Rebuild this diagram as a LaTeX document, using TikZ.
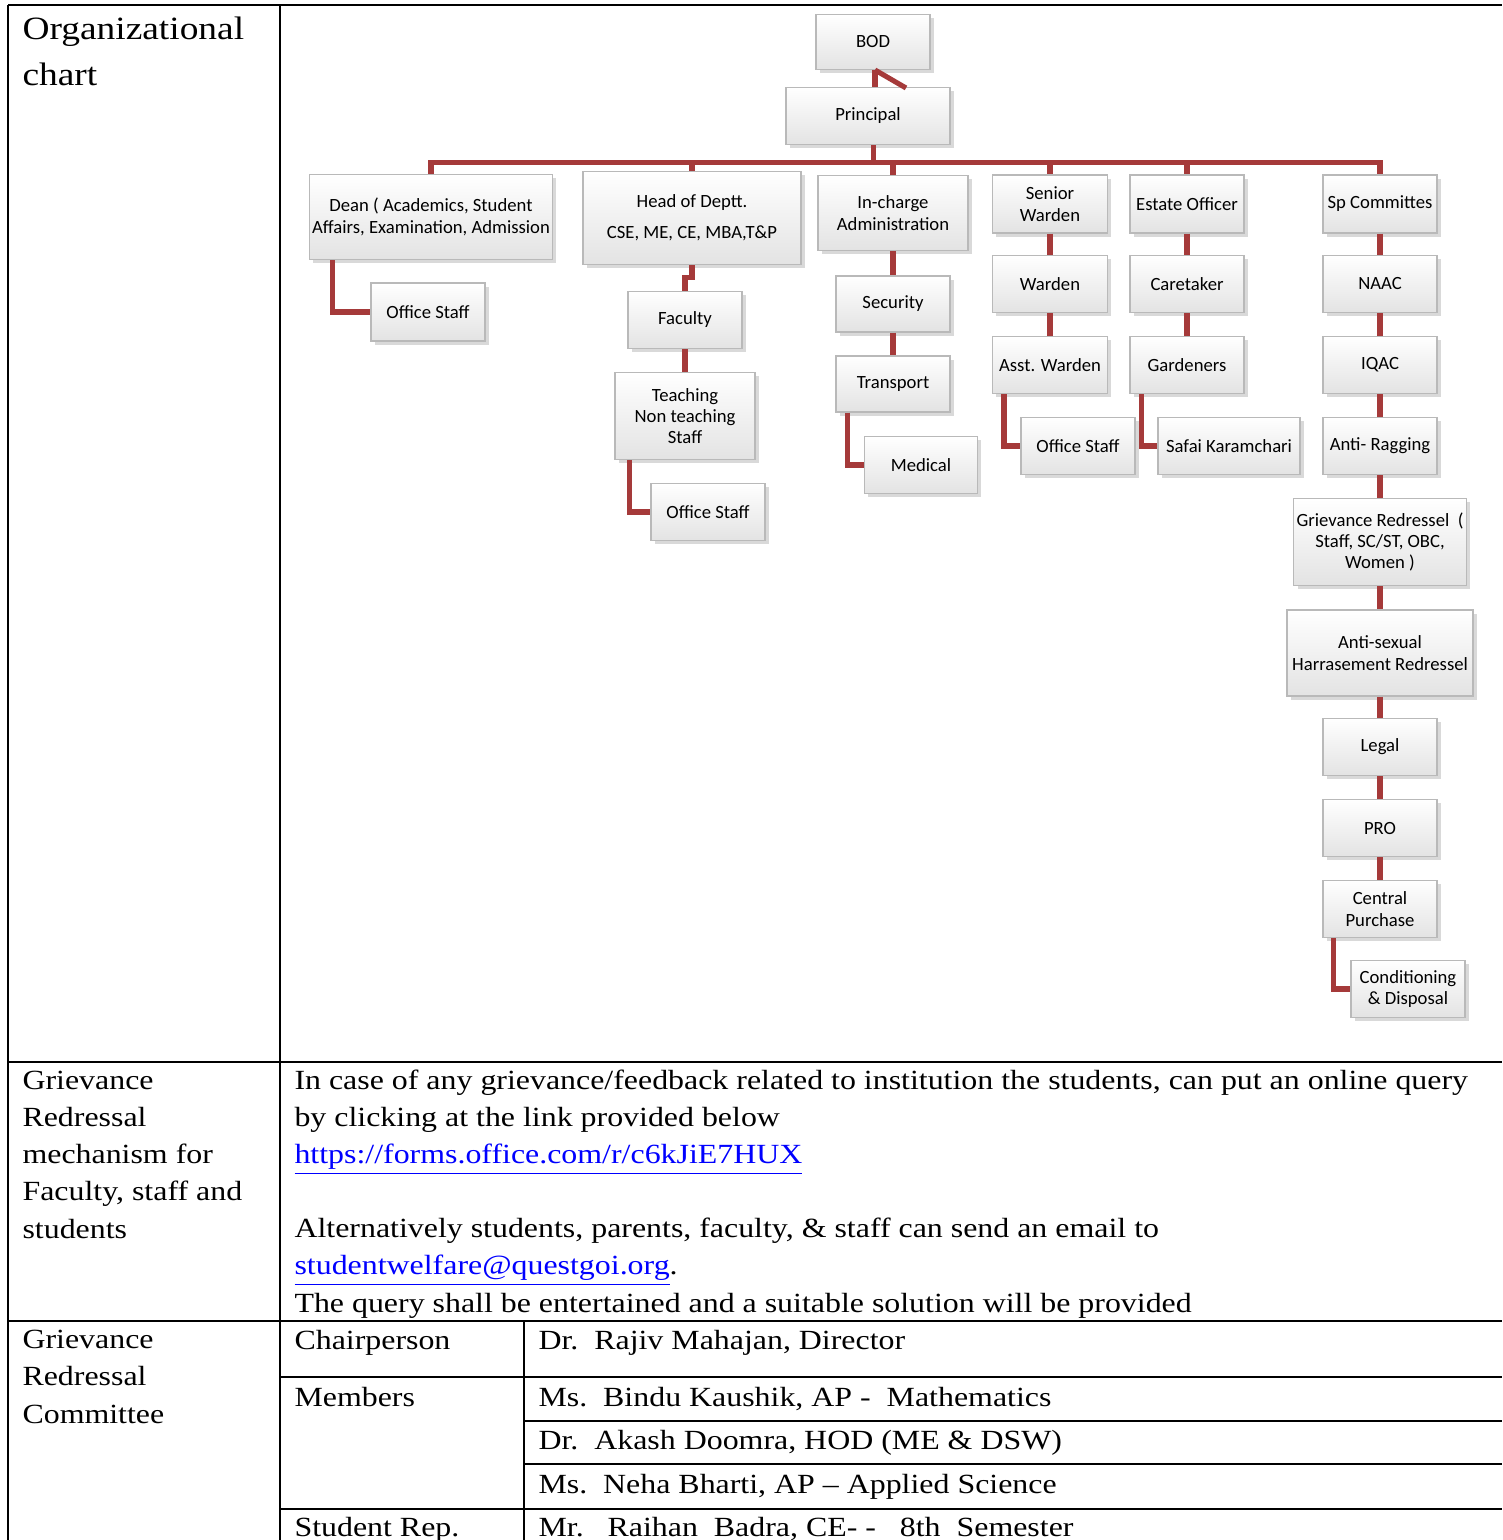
\documentclass[tikz,border=0pt]{standalone}
\usepackage{fontspec}
\setmainfont{Liberation Serif}[FakeStretch=1.15]
\newfontfamily\chartfont{Carlito}
\usetikzlibrary{shadows}

\definecolor{linkred}{RGB}{165,58,58}
\definecolor{urlblue}{RGB}{0,0,255}
\newcommand{\weblink}[1]{\textcolor{urlblue}{\underline{#1}}}

\tikzset{
    orgbox/.style={draw=gray!55, top color=white, bottom color=gray!22,
        drop shadow={shadow xshift=1.4pt, shadow yshift=-1.4pt, opacity=0.3},
        font=\chartfont\fontsize{7}{8}\selectfont, align=center, inner sep=1pt,
        minimum width=42.75pt, minimum height=21.4pt},
    link/.style={draw=linkred, line width=1.9pt},
    rule/.style={line width=1.1pt},
    % multi-line cells are placed by the baseline of their last line
    celltext/.style={anchor=base west, align=left, inner sep=0pt,
        font=\fontsize{10.4}{13.9}\selectfont}
}

\begin{document}
\begin{tikzpicture}[x=0.375pt, y=-0.375pt]
    \useasboundingbox (0,0) rectangle (1502,1540);

    % table rules
    \draw[rule] (8,5) -- (1502,5);
    \draw[rule] (8,5) -- (8,1540);
    \draw[rule] (280,5) -- (280,1540);
    \draw[rule] (8,1062) -- (1502,1062);
    \draw[rule] (8,1321) -- (1502,1321);
    \draw[rule] (524,1321) -- (524,1540);
    \draw[rule] (280,1377) -- (1502,1377);
    \draw[rule] (524,1421) -- (1502,1421);
    \draw[rule] (524,1464) -- (1502,1464);
    \draw[rule] (280,1509) -- (1502,1509);

    % organizational chart
    \node[orgbox, minimum height=20.6pt] (bod) at (873,42) {BOD};
    \node[orgbox, minimum width=61.5pt] (principal) at (868,116) {Principal};
    \coordinate (stray) at (906,88);

    \node[orgbox, minimum width=91.1pt, minimum height=31.9pt] (dean) at (431,217)
        {Dean ( Academics, Student\\Affairs, Examination, Admission};
    \node[orgbox, minimum width=81.75pt, minimum height=34.9pt] (hod) at (692,218)
        {Head of Deptt.\\[3.5pt]CSE, ME, CE, MBA,T\&P};
    \node[orgbox, minimum width=56.25pt, minimum height=28.1pt] (incharge) at (893,213)
        {In-charge\\Administration};
    \node[orgbox, minimum width=43.1pt, minimum height=21.75pt] (senior) at (1050,204) {Senior\\Warden};
    \node[orgbox, minimum height=21.75pt] (estate) at (1187,204) {Estate Officer};
    \node[orgbox, minimum height=21.75pt] (spcom) at (1380,204) {Sp Committes};

    \node[orgbox, minimum height=21.75pt] (deanoffice) at (428,312) {Office Staff};

    \node[orgbox] (faculty) at (685,320) {Faculty};
    \node[orgbox, minimum width=52.5pt, minimum height=32.6pt] (teaching) at (685,416)
        {Teaching\\Non teaching\\Staff};
    \node[orgbox] (hodoffice) at (708,512) {Office Staff};

    \node[orgbox, minimum height=21pt] (security) at (893,304) {Security};
    \node[orgbox, minimum height=21pt] (transport) at (893,384) {Transport};
    \node[orgbox, minimum width=42.4pt] (medical) at (921,465) {Medical};

    \node[orgbox, minimum width=43.1pt] (warden) at (1050,284) {Warden};
    \node[orgbox, minimum width=43.1pt] (asstwarden) at (1050,365) {Asst. Warden};
    \node[orgbox] (wardenoffice) at (1078,446) {Office Staff};

    \node[orgbox] (caretaker) at (1187,284) {Caretaker};
    \node[orgbox] (gardeners) at (1187,365) {Gardeners};
    \node[orgbox, minimum width=53.25pt] (safai) at (1229,446) {Safai Karamchari};

    \node[orgbox] (naac) at (1380,284) {NAAC};
    \node[orgbox] (iqac) at (1380,365) {IQAC};
    \node[orgbox] (ragging) at (1380,446) {Anti- Ragging};
    \node[orgbox, minimum width=64.1pt, minimum height=32.6pt] (grievance) at (1380,542)
        {Grievance Redressel\ \ (\\Staff, SC/ST, OBC,\\Women )};
    \node[orgbox, minimum width=69.75pt, minimum height=32.25pt] (antisexual) at (1380,653)
        {Anti-sexual\\Harrasement Redressel};
    \node[orgbox] (legal) at (1380,747) {Legal};
    \node[orgbox] (pro) at (1380,828) {PRO};
    \node[orgbox] (purchase) at (1380,909) {Central\\Purchase};
    \node[orgbox] (disposal) at (1408,989) {Conditioning\\\& Disposal};

    % connectors
    \draw[link] (bod.south -| 875,0) -- (principal.north -| 875,0);
    \draw[link] (bod.south -| 875,0) -- (stray);
    \draw[link] ([xshift=1.9pt]principal.south) -- ++(0,17) -| (dean.north);
    \draw[link] ([xshift=1.9pt]principal.south) -- ++(0,17) -| (hod.north);
    \draw[link] ([xshift=1.9pt]principal.south) -- ++(0,17) -| (incharge.north);
    \draw[link] ([xshift=1.9pt]principal.south) -- ++(0,17) -| (senior.north);
    \draw[link] ([xshift=1.9pt]principal.south) -- ++(0,17) -| (estate.north);
    \draw[link] ([xshift=1.9pt]principal.south) -- ++(0,17) -| (spcom.north);

    \draw[link] ([xshift=9pt]dean.south west) |- (deanoffice.west);

    \draw[link] (hod.south) -- ++(0,12) -| (faculty.north);
    \draw[link] (faculty.south) -- (teaching.north);
    \draw[link] ([xshift=5.6pt]teaching.south west) |- (hodoffice.west);

    \draw[link] (incharge.south) -- (security.north);
    \draw[link] (security.south) -- (transport.north);
    \draw[link] ([xshift=4.5pt]transport.south west) |- (medical.west);

    \draw[link] (senior.south) -- (warden.north);
    \draw[link] (warden.south) -- (asstwarden.north);
    \draw[link] ([xshift=4.5pt]asstwarden.south west) |- (wardenoffice.west);

    \draw[link] (estate.south) -- (caretaker.north);
    \draw[link] (caretaker.south) -- (gardeners.north);
    \draw[link] ([xshift=4.5pt]gardeners.south west) |- (safai.west);

    \draw[link] (spcom.south) -- (naac.north);
    \draw[link] (naac.south) -- (iqac.north);
    \draw[link] (iqac.south) -- (ragging.north);
    \draw[link] (ragging.south) -- (grievance.north);
    \draw[link] (grievance.south) -- (antisexual.north);
    \draw[link] (antisexual.south) -- (legal.north);
    \draw[link] (legal.south) -- (pro.north);
    \draw[link] (pro.south) -- (purchase.north);
    \draw[link] ([xshift=4.1pt]purchase.south west) |- (disposal.west);

    % table text
    \node[celltext, font=\fontsize{12.2}{17.6}\selectfont] (charthead) at (22,86)
        {Organizational\\chart};

    \node[celltext] (mechhead) at (22,1238)
        {Grievance\\Redressal\\mechanism for\\Faculty, staff and\\students};
    \node[celltext] (query) at (294,1312)
        {In case of any grievance/feedback related to institution the students, can put an online query\\
         by clicking at the link provided below\\
         \weblink{https://forms.office.com/r/c6kJiE7HUX}\\
         \mbox{}\\
         Alternatively students, parents, faculty, \& staff can send an email to\\
         \weblink{studentwelfare@questgoi.org}.\\
         The query shall be entertained and a suitable solution will be provided};

    \node[celltext] (comhead) at (22,1423) {Grievance\\Redressal\\Committee};
    \node[celltext] (chair) at (294,1349) {Chairperson};
    \node[celltext] (members) at (294,1406) {Members};
    \node[celltext] (studrep) at (294,1536) {Student Rep.};
    \node[celltext] (chairname) at (538,1349) {Dr.\ \ Rajiv Mahajan, Director};
    \node[celltext] (memberone) at (538,1406) {Ms.\ \ Bindu Kaushik, AP -\ \ Mathematics};
    \node[celltext] (membertwo) at (538,1449) {Dr.\ \ Akash Doomra, HOD (ME \& DSW)};
    \node[celltext] (memberthree) at (538,1493) {Ms.\ \ Neha Bharti, AP – Applied Science};
    \node[celltext] (repname) at (538,1536) {Mr.\ \ \ Raihan\ \ Badra, CE-\ -\ \ \ 8th\ \ Semester};
\end{tikzpicture}
\end{document}
